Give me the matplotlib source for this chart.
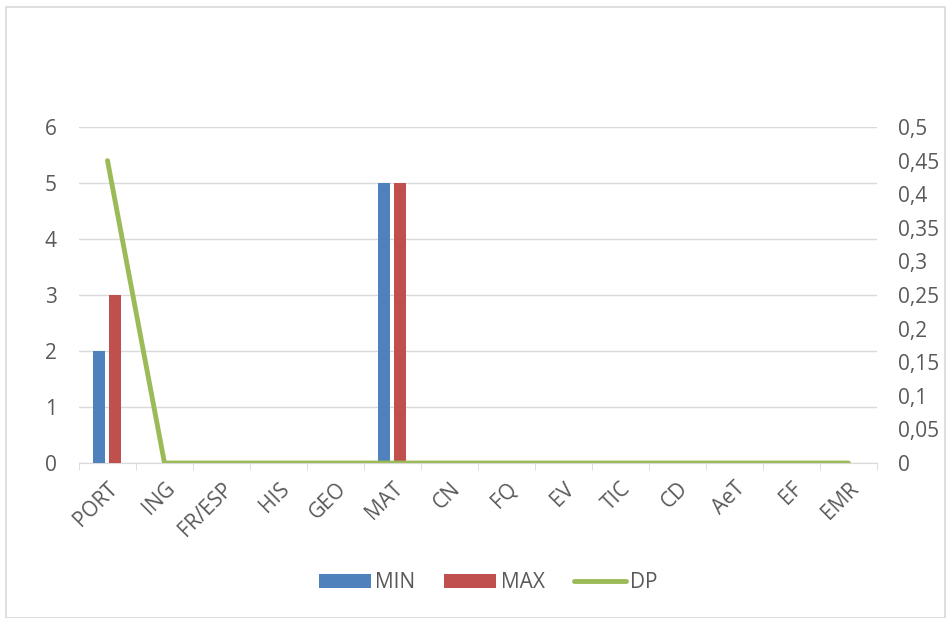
import numpy as np
import matplotlib.pyplot as plt
from matplotlib.patches import Rectangle
from matplotlib.ticker import FuncFormatter

plt.rcParams['font.family'] = ['Open Sans', 'DejaVu Sans']

categories = ['PORT', 'ING', 'FR/ESP', 'HIS', 'GEO', 'MAT', 'CN', 'FQ', 'EV', 'TIC', 'CD', 'AeT', 'EF', 'EMR']
min_vals = [2, 0, 0, 0, 0, 5, 0, 0, 0, 0, 0, 0, 0, 0]
max_vals = [3, 0, 0, 0, 0, 5, 0, 0, 0, 0, 0, 0, 0, 0]
dp_vals = [0.45, 0, 0, 0, 0, 0, 0, 0, 0, 0, 0, 0, 0, 0]

txt = '#595959'
fs = 15
fig = plt.figure(figsize=(9.46, 6.18), dpi=100)
ax = fig.add_axes([0.0835, 0.2508, 0.8435, 0.5437])

x = np.arange(len(categories))
w = 0.22
ax.bar(x - w / 2 - 0.04, min_vals, w, color='#4F81BD', label='MIN', zorder=3)
ax.bar(x + w / 2 + 0.02, max_vals, w, color='#C0504D', label='MAX', zorder=3)

ax.set_xlim(-0.5, len(categories) - 0.5)
ax.set_ylim(0, 6)
ax.set_yticks(range(0, 7))
ax.grid(axis='y', color='#D9D9D9', linewidth=1, zorder=0)
ax.set_xticks(x)
ax.set_xticklabels(categories, rotation=45, ha='right', rotation_mode='anchor')
ax.set_xticks(np.arange(-0.5, len(categories)), minor=True)
ax.tick_params(axis='x', which='major', length=0, pad=11, labelsize=fs, labelcolor=txt)
ax.tick_params(axis='x', which='minor', length=5, color='#D9D9D9')
ax.tick_params(axis='y', length=0, pad=16, labelsize=fs, labelcolor=txt)
for s in ['top', 'right', 'left']:
    ax.spines[s].set_visible(False)
ax.spines['bottom'].set_color('#D9D9D9')

ax2 = ax.twinx()
ax2.plot(x, dp_vals, color='#9BBB59', linewidth=3.5, label='DP', zorder=4, solid_capstyle='round')
ax2.set_ylim(0, 0.5)
ax2.set_yticks(np.arange(0, 0.501, 0.05))
ax2.yaxis.set_major_formatter(FuncFormatter(lambda v, p: ('%g' % round(v, 2)).replace('.', ',')))
ax2.tick_params(axis='y', length=0, pad=15, labelsize=fs, labelcolor=txt)
for s in ax2.spines.values():
    s.set_visible(False)

h1, l1 = ax.get_legend_handles_labels()
h2, l2 = ax2.get_legend_handles_labels()
fig.legend(h1 + h2, l1 + l2, loc='center', bbox_to_anchor=(0.516, 0.057), ncol=3,
           frameon=False, fontsize=fs, labelcolor=txt, handlelength=2.5,
           handleheight=0.63, handletextpad=0.2, columnspacing=1.4)

fig.patches.append(Rectangle((0.006, 0.0), 0.993, 0.988, transform=fig.transFigure,
                             fill=False, edgecolor='#D9D9D9', linewidth=1.2))

fig.savefig('out.png', dpi=100)
